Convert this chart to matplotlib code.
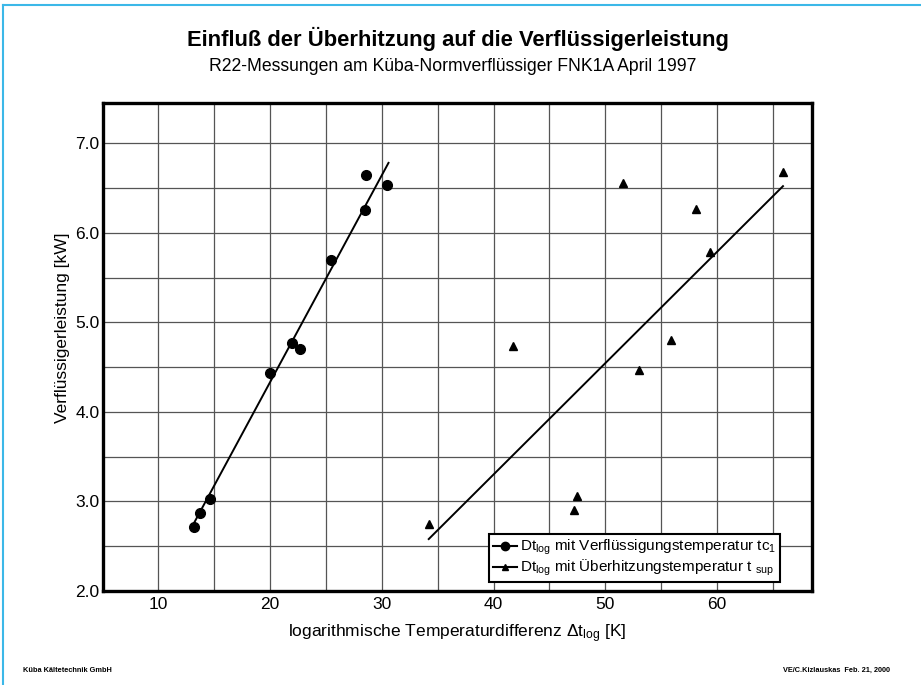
import numpy as np
import matplotlib
matplotlib.use("Agg")
from matplotlib import pyplot as plt
from matplotlib.lines import Line2D

plt.rcParams['font.family'] = ['Liberation Sans', 'DejaVu Sans']
plt.rcParams['mathtext.fontset'] = 'custom'
plt.rcParams['mathtext.rm'] = 'Liberation Sans'
plt.rcParams['mathtext.it'] = 'Liberation Sans:italic'

# Dt_log mit Verflüssigungstemperatur tc1
dt_tc = [13.2, 13.7, 14.65, 20.0, 22.0, 22.7, 25.45, 28.5, 28.6, 30.5]
q_tc = [2.72, 2.87, 3.03, 4.43, 4.77, 4.70, 5.70, 6.25, 6.65, 6.53]
# Trendlinie (Endpunkte)
fit_tc_x = [13.2, 30.6]
fit_tc_y = [2.76, 6.78]

# Dt_log mit Überhitzungstemperatur t_sup
dt_sup = [34.2, 41.7, 47.2, 47.5, 51.6, 53.0, 55.9, 58.1, 59.4, 65.9]
q_sup = [2.75, 4.73, 2.91, 3.06, 6.56, 4.47, 4.80, 6.27, 5.79, 6.68]
fit_sup_x = [34.2, 65.9]
fit_sup_y = [2.58, 6.52]

x_ticks = [10, 20, 30, 40, 50, 60]
y_ticks = [2.0, 3.0, 4.0, 5.0, 6.0, 7.0]

fig = plt.figure(figsize=(9.21, 6.85), dpi=100)
ax = fig.add_axes([0.1118, 0.1372, 0.7699, 0.712])

# page border (left and top only)
fig.add_artist(Line2D([0.0035, 0.0035], [0, 0.9925], transform=fig.transFigure, color='#3cb8e8', lw=1.5))
fig.add_artist(Line2D([0.0035, 1.0], [0.9925, 0.9925], transform=fig.transFigure, color='#3cb8e8', lw=1.5))

ax.plot(dt_tc, q_tc, 'o', color='black', ms=7)
ax.plot(fit_tc_x, fit_tc_y, '-', color='black', lw=1.4)
ax.plot(dt_sup, q_sup, '^', color='black', ms=6)
ax.plot(fit_sup_x, fit_sup_y, '-', color='black', lw=1.4)

ax.set_xlim(5.05, 68.5)
ax.set_ylim(2.0, 7.445)
ax.set_xticks(x_ticks)
ax.set_yticks(y_ticks)
ax.set_yticklabels([f"{v:.1f}" for v in y_ticks])
ax.set_xticks(np.arange(10, 68, 5), minor=True)
ax.set_yticks(np.arange(2.5, 7.4, 0.5), minor=True)
ax.grid(which='both', color='#555555', lw=0.9)
ax.set_axisbelow(True)
ax.tick_params(which='both', length=0, labelsize=12.5)
ax.tick_params(axis='y', pad=2.5)
ax.tick_params(axis='x', pad=4)
for s in ax.spines.values():
    s.set_linewidth(2.4)

ax.set_xlabel(r"logarithmische Temperaturdifferenz $\Delta$t$_{\mathrm{log}}$ [K]", fontsize=12.5, labelpad=8)
ax.set_ylabel("Verflüssigerleistung [kW]", fontsize=12.5)
ax.yaxis.set_label_coords(-0.047, 0.54)

handles = [Line2D([], [], color='black', marker='o', ms=6, lw=1.5),
           Line2D([], [], color='black', marker='^', ms=5, lw=1.5)]
labels = [r"Dt$_{\mathrm{log}}$ mit Verflüssigungstemperatur tc$_{\mathrm{1}}$",
          r"Dt$_{\mathrm{log}}$ mit Überhitzungstemperatur t $_{\mathrm{sup}}$"]
leg = ax.legend(handles, labels, loc='lower right', bbox_to_anchor=(0.955, 0.018),
                borderaxespad=0, fontsize=11, handlelength=1.6, handletextpad=0.2,
                labelspacing=0.05, fancybox=False, framealpha=1, edgecolor='black',
                borderpad=0.25)
leg.get_frame().set_linewidth(1.5)

fig.text(0.497, 0.943, "Einfluß der Überhitzung auf die Verflüssigerleistung",
         ha='center', va='center', fontsize=15.8, fontweight='bold')
fig.text(0.492, 0.903, "R22-Messungen am Küba-Normverflüssiger FNK1A April 1997",
         ha='center', va='center', fontsize=12.7)

fig.text(0.025, 0.021, "Küba Kältetechnik GmbH", ha='left', va='center', fontsize=5.3, fontweight='bold')
fig.text(0.966, 0.021, "VE/C.Kizlauskas  Feb. 21, 2000", ha='right', va='center', fontsize=5.3, fontweight='bold')

fig.savefig("out.png", dpi=100)
